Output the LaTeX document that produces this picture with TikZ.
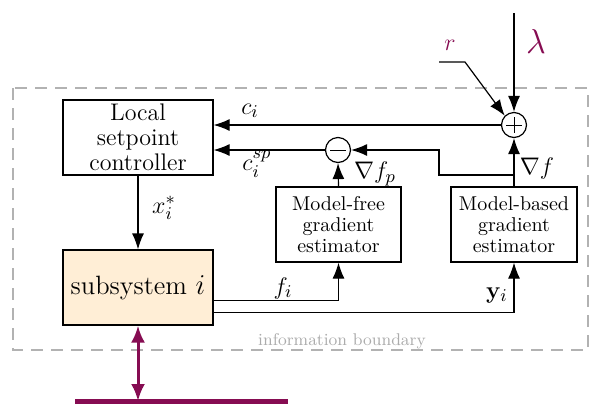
\documentclass[tikz,border=0pt]{standalone}
\usetikzlibrary{arrows.meta,calc}
\definecolor{netpurple}{RGB}{134,12,82}
\definecolor{subfill}{RGB}{255,238,214}
\begin{document}
\begin{tikzpicture}[x=0.5pt,y=-0.5pt,
  line width=0.6pt,
  blockbox/.style={draw,line width=0.6pt,align=center,inner sep=0pt},
  bigbox/.style={blockbox,minimum width=75pt,minimum height=37.5pt,
    font=\fontsize{12}{12.5}\selectfont},
  estbox/.style={blockbox,minimum height=37.5pt,
    font=\fontsize{10}{10.5}\selectfont},
  sumpt/.style={draw,circle,minimum size=12.5pt,inner sep=0pt,fill=white},
  sign/.style={line width=0.45pt},
  sig/.style={-{Latex[length=8pt,width=6pt]}},
  lbl/.style={font=\fontsize{13}{15}\selectfont},
  boundary/.style={gray!60,dash pattern=on 6pt off 4pt,line width=0.6pt}]
\useasboundingbox (0,0) rectangle (589,403);

% information boundary
\draw[boundary] (13,88) rectangle (588,350);
\node[text=gray!65,font=\fontsize{8.5}{9}\selectfont] (ib) at (342,341) {information boundary};

% blocks
\node[bigbox] (loc) at (138,137.5) {Local\\setpoint\\controller};
\node[bigbox,fill=subfill,font=\fontsize{13.25}{14}\selectfont] (sub) at (138,287.5) {subsystem $i$};
\node[estbox,minimum width=62.5pt] (mf) at (338.5,224.5) {Model-free\\gradient\\estimator};
\node[estbox,minimum width=63pt] (mb) at (514,224.5) {Model-based\\gradient\\estimator};

% summation points
\node[sumpt] (minus) at (338,150) {};
\draw[sign] ($(minus.center)+(-8,0)$) -- ($(minus.center)+(8,0)$);
\node[sumpt] (plus) at (514,125) {};
\draw[sign] ($(plus.center)+(-8,0)$) -- ($(plus.center)+(8,0)$);
\draw[sign] ($(plus.center)+(0,-8)$) -- ($(plus.center)+(0,8)$);

% external inputs
\coordinate (ltop) at (514,13);
\coordinate (rstart) at (439,62);
\coordinate (rbend) at (465,62);
\draw[sig] (ltop) -- (plus.north);
\draw[sig] (rstart) -- (rbend) -- (plus.north west);
\node[text=netpurple,font=\fontsize{13}{14}\selectfont] (rlab) at (450,45) {$r$};
\node[text=netpurple,font=\fontsize{16}{18}\selectfont] (llab) at (536,41) {$\lambda$};

% setpoint corrections
\draw[sig] (plus.west) -- (plus.west -| loc.east);
\draw[sig] (minus.west) -- (minus.west -| loc.east);
\node[lbl] (cilab) at (250,111) {$c_i$};
\node[lbl] (csplab) at (257,164) {$c_i^{sp}$};

% gradients
\coordinate (gsplit) at (514,175);
\coordinate (gleft) at (439,175);
\coordinate (gup) at (439,150);
\draw[sig] (mb.north) -- (plus.south);
\draw[sig] (gsplit) -- (gleft) -- (gup) -- (minus.east);
\draw[sig] (mf.north) -- (minus.south);
\node[lbl] (gflab) at (537,168) {$\nabla f$};
\node[lbl] (gfplab) at (375,174) {$\nabla f_p$};

% setpoint to subsystem
\draw[sig] (loc.south) -- (sub.north);
\node[lbl] (xlab) at (164,208) {$x_i^*$};

% measurements
\coordinate (fout) at (213,300.5);
\coordinate (yout) at (213,312.5);
\draw[sig] (fout) -| (mf.south);
\draw[sig] (yout) -| (mb.south);
\node[lbl] (flab) at (283,288) {$f_i$};
\node[lbl] (ylab) at (497,295) {$\mathbf{y}_i$};

% physical network
\coordinate (busl) at (75,401);
\coordinate (busr) at (288,401);
\coordinate (busc) at (138,401);
\draw[netpurple,line width=2.5pt] (busl) -- (busr);
\draw[netpurple,line width=1.5pt,{Latex[length=8.5pt,width=7pt]}-{Latex[length=8.5pt,width=7pt]}] (sub.south) -- (busc);
\end{tikzpicture}
\end{document}
